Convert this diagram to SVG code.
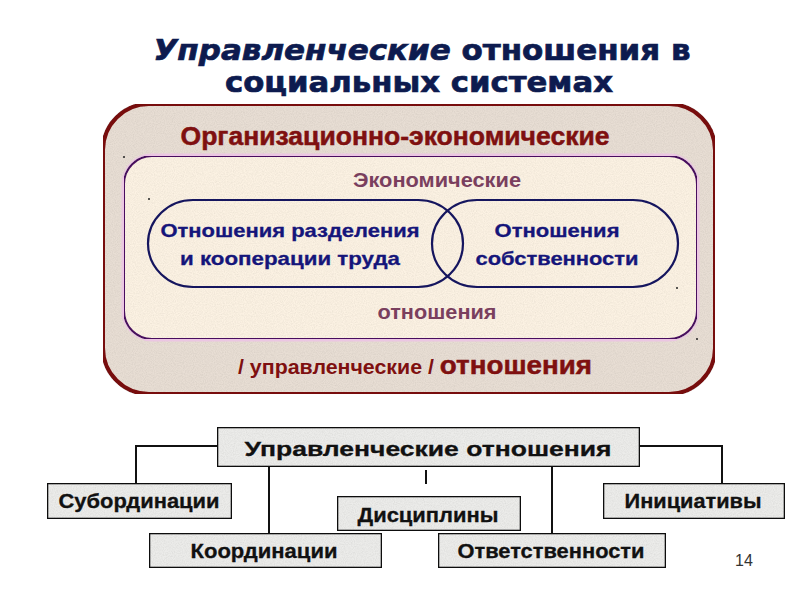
<svg xmlns="http://www.w3.org/2000/svg" width="800" height="600" viewBox="0 0 800 600">
<style>
.title{font-family:"DejaVu Sans",Verdana,sans-serif;font-weight:bold;fill:#0d1b4f;stroke:#0d1b4f;stroke-width:0.7px;font-size:28px}
.ar{font-family:"Liberation Sans",Arial,sans-serif;font-weight:bold}
.org{fill:#7f1010;stroke:#7f1010;stroke-width:0.5px;font-size:25px}
.eco{fill:#7a3f5e;font-size:20px}
.pill{fill:none;stroke:#15155e;stroke-width:2.2}
.ptxt{fill:#15157a;stroke:#15157a;stroke-width:0.3px;font-size:19px}
.box{fill:#ececea;stroke:#111;stroke-width:2.6}
.btxt{fill:#111;stroke:#111;stroke-width:0.3px;font-size:21px}
.conn{fill:none;stroke:#111;stroke-width:2}
.dot{fill:#222}
</style>
<defs>
<filter id="grain" x="0" y="0" width="1" height="1">
<feTurbulence type="fractalNoise" baseFrequency="0.9" numOctaves="2" seed="3" result="n"/>
<feColorMatrix in="n" type="matrix" values="0 0 0 0 0.86  0 0 0 0 0.86  0 0 0 0 0.86  0 0 0 -1.6 1.1" result="g"/>
<feComposite in="g" in2="SourceGraphic" operator="in" result="gg"/>
<feBlend in="SourceGraphic" in2="gg" mode="multiply"/>
</filter>
</defs>
<rect width="800" height="600" fill="#ffffff"/>

<g id="title">
<text class="title" x="422" y="60" text-anchor="middle" textLength="537" lengthAdjust="spacingAndGlyphs"><tspan font-style="italic">Управленческие</tspan> отношения в</text>
<text class="title" x="419" y="92" text-anchor="middle" textLength="388" lengthAdjust="spacingAndGlyphs">социальных системах</text>
</g>

<g id="outer">
<rect x="103" y="104" width="612" height="290" rx="46" ry="46" fill="#e8ded4" stroke="#7a0a0a" stroke-width="4" filter="url(#grain)"/>
<text class="ar org" x="395" y="145" text-anchor="middle" textLength="429" lengthAdjust="spacingAndGlyphs">Организационно-экономические</text>
<text class="ar" x="238" y="374" fill="#7f1010" textLength="354" lengthAdjust="spacingAndGlyphs"><tspan font-size="20px">/ управленческие / </tspan><tspan font-size="26px" stroke="#7f1010" stroke-width="0.5px">отношения</tspan></text>
</g>

<g id="inner">
<rect x="124" y="156" width="573" height="183" rx="28" ry="28" fill="none" stroke="#ebc6e2" stroke-width="5"/>
<rect x="124" y="156" width="573" height="183" rx="28" ry="28" fill="#fcf2e3" stroke="#4a1060" stroke-width="2" filter="url(#grain)"/>
<text class="ar eco" x="437" y="187" text-anchor="middle" textLength="168" lengthAdjust="spacingAndGlyphs">Экономические</text>
<text class="ar eco" x="437" y="319" text-anchor="middle" textLength="119" lengthAdjust="spacingAndGlyphs">отношения</text>
</g>

<g id="pill-left">
<rect class="pill" x="148" y="200" width="315" height="87" rx="45" ry="43.5"/>
<text class="ar ptxt" x="290" y="237" text-anchor="middle" textLength="259" lengthAdjust="spacingAndGlyphs">Отношения разделения</text>
<text class="ar ptxt" x="290" y="265" text-anchor="middle" textLength="220" lengthAdjust="spacingAndGlyphs">и кооперации труда</text>
</g>

<g id="pill-right">
<rect class="pill" x="432" y="200" width="246" height="87" rx="45" ry="43.5"/>
<text class="ar ptxt" x="557" y="237" text-anchor="middle" textLength="125" lengthAdjust="spacingAndGlyphs">Отношения</text>
<text class="ar ptxt" x="557" y="265" text-anchor="middle" textLength="163" lengthAdjust="spacingAndGlyphs">собственности</text>
</g>

<g id="handles">
<circle class="dot" cx="124" cy="157" r="1"/>
<circle class="dot" cx="149" cy="199" r="1"/>
<circle class="dot" cx="677" cy="288" r="1"/>
<circle class="dot" cx="697" cy="339" r="1"/>
</g>

<g id="connectors">
<path class="conn" d="M217,446 H136 V483"/>
<path class="conn" d="M640,446 H722 V483"/>
<path class="conn" d="M269,467 V533"/>
<path class="conn" d="M552,467 V533"/>
<path class="conn" d="M426,470 V484"/>
</g>

<g id="node-main">
<rect class="box" x="217" y="427" width="423" height="40" filter="url(#grain)"/>
<text class="ar btxt" x="428" y="456" text-anchor="middle" font-size="25px" textLength="367" lengthAdjust="spacingAndGlyphs">Управленческие отношения</text>
</g>
<g id="node-sub">
<rect class="box" x="47" y="483" width="185" height="36" filter="url(#grain)"/>
<text class="ar btxt" x="139" y="508" text-anchor="middle" textLength="161" lengthAdjust="spacingAndGlyphs">Субординации</text>
</g>
<g id="node-disc">
<rect class="box" x="337" y="496" width="184" height="35" filter="url(#grain)"/>
<text class="ar btxt" x="428" y="522" text-anchor="middle" textLength="141" lengthAdjust="spacingAndGlyphs">Дисциплины</text>
</g>
<g id="node-init">
<rect class="box" x="603" y="483" width="182" height="36" filter="url(#grain)"/>
<text class="ar btxt" x="693" y="508" text-anchor="middle" textLength="137" lengthAdjust="spacingAndGlyphs">Инициативы</text>
</g>
<g id="node-coord">
<rect class="box" x="149" y="533" width="233" height="35" filter="url(#grain)"/>
<text class="ar btxt" x="264" y="558" text-anchor="middle" textLength="147" lengthAdjust="spacingAndGlyphs">Координации</text>
</g>
<g id="node-resp">
<rect class="box" x="438" y="533" width="228" height="35" filter="url(#grain)"/>
<text class="ar btxt" x="551" y="558" text-anchor="middle" textLength="187" lengthAdjust="spacingAndGlyphs">Ответственности</text>
</g>

<text x="744" y="566" text-anchor="middle" font-family="Liberation Sans, Arial, sans-serif" font-size="16px" fill="#333">14</text>
</svg>
